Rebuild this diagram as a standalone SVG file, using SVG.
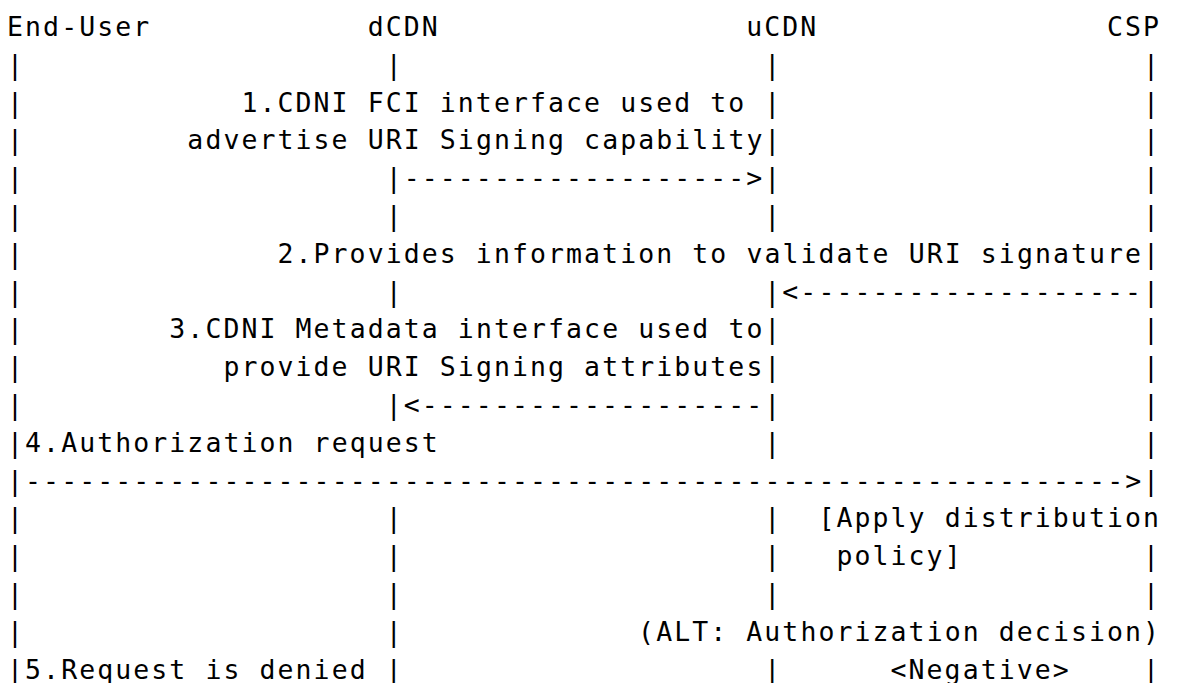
<svg xmlns="http://www.w3.org/2000/svg" width="1179" height="683" viewBox="0 0 1179 683">
<style>
text{font-family:"DejaVu Sans Mono","Liberation Mono",monospace;font-size:26.5px;letter-spacing:2.08px;fill:#000;white-space:pre}
</style>
<rect width="1179" height="683" fill="#fff"/>
<g transform="translate(-0.45,0)">
<g id="node-end-user"><text x="7.5" y="36">End-User</text></g>
<g id="node-dcdn"><text x="368.1" y="36">dCDN</text></g>
<g id="node-ucdn"><text x="746.73" y="36">uCDN</text></g>
<g id="node-csp"><text x="1107.33" y="36">CSP</text></g>
<g id="lifelines">
<text y="73.8"><tspan x="7.5">|</tspan><tspan x="386.13">|</tspan><tspan x="764.76">|</tspan><tspan x="1143.39">|</tspan></text>
<text y="111.6"><tspan x="7.5">|</tspan><tspan x="764.76">|</tspan><tspan x="1143.39">|</tspan></text>
<text y="149.4"><tspan x="7.5">|</tspan><tspan x="764.76">|</tspan><tspan x="1143.39">|</tspan></text>
<text y="187.2"><tspan x="7.5">|</tspan><tspan x="386.13">|</tspan><tspan x="764.76">|</tspan><tspan x="1143.39">|</tspan></text>
<text y="225"><tspan x="7.5">|</tspan><tspan x="386.13">|</tspan><tspan x="764.76">|</tspan><tspan x="1143.39">|</tspan></text>
<text y="262.8"><tspan x="7.5">|</tspan><tspan x="1143.39">|</tspan></text>
<text y="300.6"><tspan x="7.5">|</tspan><tspan x="386.13">|</tspan><tspan x="764.76">|</tspan><tspan x="1143.39">|</tspan></text>
<text y="338.4"><tspan x="7.5">|</tspan><tspan x="764.76">|</tspan><tspan x="1143.39">|</tspan></text>
<text y="376.2"><tspan x="7.5">|</tspan><tspan x="764.76">|</tspan><tspan x="1143.39">|</tspan></text>
<text y="414"><tspan x="7.5">|</tspan><tspan x="386.13">|</tspan><tspan x="764.76">|</tspan><tspan x="1143.39">|</tspan></text>
<text y="451.8"><tspan x="7.5">|</tspan><tspan x="764.76">|</tspan><tspan x="1143.39">|</tspan></text>
<text y="489.6"><tspan x="7.5">|</tspan><tspan x="1143.39">|</tspan></text>
<text y="527.4"><tspan x="7.5">|</tspan><tspan x="386.13">|</tspan><tspan x="764.76">|</tspan></text>
<text y="565.2"><tspan x="7.5">|</tspan><tspan x="386.13">|</tspan><tspan x="764.76">|</tspan><tspan x="1143.39">|</tspan></text>
<text y="603"><tspan x="7.5">|</tspan><tspan x="386.13">|</tspan><tspan x="764.76">|</tspan><tspan x="1143.39">|</tspan></text>
<text y="640.8"><tspan x="7.5">|</tspan><tspan x="386.13">|</tspan></text>
<text y="678.6"><tspan x="7.5">|</tspan><tspan x="386.13">|</tspan><tspan x="764.76">|</tspan><tspan x="1143.39">|</tspan></text>
</g>
<g id="connectors">
<text x="404.16" y="187.2">-------------------&gt;</text>
<text x="782.79" y="300.6">&lt;-------------------</text>
<text x="404.16" y="414">&lt;-------------------</text>
<text x="25.53" y="489.6">-------------------------------------------------------------&gt;</text>
</g>
<g id="labels">
<text x="241.89" y="111.6">1.CDNI FCI interface used to</text>
<text x="187.8" y="149.4">advertise URI Signing capability</text>
<text x="277.95" y="262.8">2.Provides information to validate URI signature</text>
<text x="169.77" y="338.4">3.CDNI Metadata interface used to</text>
<text x="223.86" y="376.2">provide URI Signing attributes</text>
<text x="25.53" y="451.8">4.Authorization request</text>
<text x="818.85" y="527.4">[Apply distribution</text>
<text x="836.88" y="565.2">policy]</text>
<text x="638.55" y="640.8">(ALT: Authorization decision)</text>
<text x="25.53" y="678.6">5.Request is denied</text>
<text x="890.97" y="678.6">&lt;Negative&gt;</text>
</g>
</g>
</svg>
